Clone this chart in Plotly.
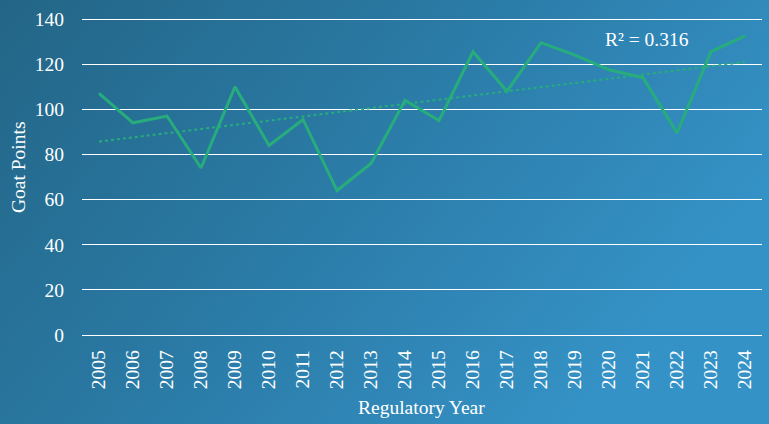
import numpy as np
import plotly.graph_objects as go
import base64

years = [str(y) for y in range(2005, 2025)]
goat_points = [107, 94, 97, 74, 110, 84, 95.5, 64, 76, 104, 95, 125.5, 108, 129.5, 124, 117.5, 114, 89.5, 125.5, 132.5]
y_ticks = [0, 20, 40, 60, 80, 100, 120, 140]
r2_label = "R² = 0.316"

idx = np.arange(len(years))
slope, intercept = np.polyfit(idx, goat_points, 1)
trend = slope * idx + intercept

font_family = "Liberation Serif"
fs = 19.5

px_per_unit = (335 - 19) / 140
y_top = 19 - 1 * px_per_unit
y_bot = 335 + 1 * px_per_unit

svg = """<svg xmlns='http://www.w3.org/2000/svg' width='769' height='424' preserveAspectRatio='none'>
<defs><linearGradient id='g' x1='0' y1='0' x2='1' y2='0.45'>
<stop offset='0' stop-color='#236586'/>
<stop offset='0.5' stop-color='#2a7aa5'/>
<stop offset='1' stop-color='#3592c6'/>
</linearGradient></defs>
<rect width='769' height='424' fill='url(#g)'/></svg>"""
src = "data:image/svg+xml;base64," + base64.b64encode(svg.encode()).decode()

fig = go.Figure()
fig.add_trace(go.Scatter(
    x=years, y=trend, mode="lines",
    line=dict(color="#27ad7c", width=2, dash="dot"),
    hoverinfo="skip", showlegend=False))
fig.add_trace(go.Scatter(
    x=years, y=goat_points, mode="lines",
    line=dict(color="#27ad7c", width=3),
    showlegend=False))

fig.update_layout(
    width=769, height=424,
    margin=dict(l=0, r=0, t=0, b=0),
    paper_bgcolor="#2a7aa6",
    plot_bgcolor="rgba(0,0,0,0)",
    font=dict(family=font_family, color="white", size=fs),
    images=[dict(source=src, xref="paper", yref="paper", x=0, y=1,
                 sizex=1, sizey=1, sizing="stretch", layer="below")],
    xaxis=dict(
        type="category", domain=[82/769, 762/769], range=[-0.5, 19.5],
        showgrid=False, showline=False, zeroline=False, ticks="",
        tickangle=-90, tickfont=dict(size=fs, color="white"),
        ticklabelstandoff=8, automargin=False,
    ),
    yaxis=dict(
        domain=[1 - y_bot/424, 1 - y_top/424], range=[-1, 141],
        tickvals=y_ticks, showgrid=True, gridcolor="white", gridwidth=1.3,
        zeroline=False, showline=False, ticks="",
        tickfont=dict(size=fs, color="white"),
        ticklabelstandoff=17, automargin=False,
    ),
    annotations=[
        dict(text="Goat Points", xref="paper", yref="paper",
             x=18/769, y=1-167/424, textangle=-90, showarrow=False,
             font=dict(size=fs, color="white"), xanchor="center", yanchor="middle"),
        dict(text="Regulatory Year", xref="paper", yref="paper",
             x=421/769, y=1-407/424, showarrow=False,
             font=dict(size=fs, color="white"), xanchor="center", yanchor="middle"),
        dict(text=r2_label, xref="paper", yref="paper",
             x=647/769, y=1-40/424, showarrow=False,
             font=dict(size=fs, color="white"), xanchor="center", yanchor="middle"),
    ],
)

fig.write_html("out.html", config={"displayModeBar": False},
               post_script="document.body.style.margin='0';document.body.style.overflow='hidden';")
